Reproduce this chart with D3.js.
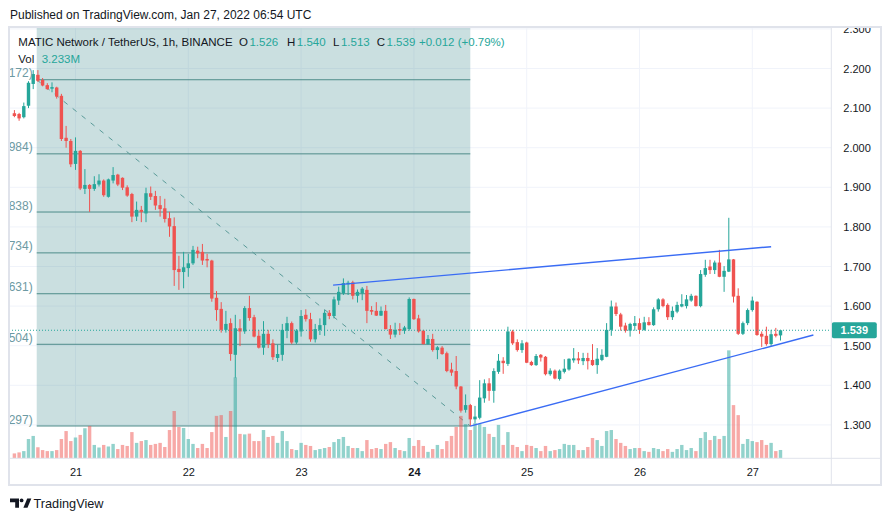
<!DOCTYPE html>
<html><head><meta charset="utf-8">
<script src="https://cdn.jsdelivr.net/npm/d3@7"></script>
<style>
body{margin:0;background:#fff}
svg{display:block}
text{font-family:"Liberation Sans",Arial,sans-serif}
</style>
</head><body>
<svg id="c" width="891" height="521"></svg>
<script>
// ---------- DATA ----------
// hourly candles, first bar opens Jan 20 2022 11:00 UTC
const firstBarTime = Date.UTC(2022, 0, 20, 11);
const opens = [2.087,2.085,2.077,2.106,2.161,2.184,2.171,2.158,2.149,2.152,2.131,2.025,2.017,
1.959,1.992,1.896,1.906,1.896,1.907,1.917,1.876,1.917,1.932,1.924,1.900,1.883,1.826,1.843,1.834,1.885,1.878,1.855,1.847,1.822,1.802,1.694,1.686,
1.696,1.708,1.740,1.737,1.719,1.715,1.621,1.593,1.540,1.557,1.477,1.544,1.536,1.595,1.572,1.525,1.495,1.530,1.506,1.469,1.477,1.538,1.557,1.508,
1.536,1.578,1.567,1.516,1.540,1.552,1.583,1.575,1.614,1.632,1.655,1.660,1.626,1.632,1.641,1.590,1.588,1.576,1.588,1.542,1.528,1.542,1.538,1.542,
1.618,1.569,1.538,1.504,1.517,1.489,1.495,1.481,1.440,1.436,1.397,1.338,1.350,1.314,1.318,1.367,1.405,1.386,1.434,1.462,1.454,1.536,1.509,1.489,
1.508,1.459,1.451,1.477,1.472,1.428,1.437,1.416,1.434,1.440,1.463,1.468,1.461,1.469,1.464,1.451,1.464,1.472,1.540,1.599,1.579,1.551,1.538,1.550,
1.557,1.540,1.560,1.552,1.592,1.617,1.603,1.572,1.586,1.599,1.600,1.614,1.626,1.600,1.679,1.700,1.691,1.710,1.674,1.687,1.718,1.626,1.530,1.557,
1.590,1.611,1.530,1.525,1.504,1.530,1.526];
const highs = [2.095,2.088,2.114,2.168,2.196,2.196,2.176,2.163,2.165,2.154,2.136,2.055,2.022,
2.026,1.994,1.946,1.908,1.928,1.933,1.920,1.922,1.951,1.934,1.925,1.905,1.886,1.864,1.853,1.899,1.902,1.891,1.878,1.871,1.838,1.824,1.727,1.737,
1.732,1.752,1.750,1.757,1.732,1.717,1.638,1.610,1.588,1.569,1.578,1.567,1.600,1.626,1.578,1.540,1.562,1.540,1.516,1.503,1.555,1.573,1.561,1.542,
1.590,1.592,1.583,1.555,1.569,1.590,1.590,1.624,1.649,1.670,1.664,1.664,1.642,1.648,1.651,1.600,1.610,1.599,1.603,1.552,1.558,1.557,1.550,1.622,
1.619,1.578,1.540,1.527,1.530,1.499,1.499,1.485,1.457,1.474,1.398,1.377,1.353,1.348,1.413,1.415,1.418,1.443,1.479,1.471,1.548,1.540,1.516,1.514,
1.510,1.462,1.479,1.479,1.474,1.443,1.440,1.440,1.466,1.468,1.494,1.484,1.482,1.482,1.504,1.494,1.491,1.557,1.614,1.609,1.583,1.558,1.558,1.575,
1.569,1.573,1.572,1.597,1.620,1.620,1.607,1.599,1.611,1.630,1.628,1.631,1.627,1.691,1.717,1.717,1.715,1.742,1.701,1.823,1.719,1.645,1.561,1.594,
1.624,1.612,1.536,1.548,1.540,1.545,1.540];
const lows = [2.077,2.068,2.074,2.100,2.148,2.166,2.155,2.146,2.140,2.124,2.017,2.000,1.951,
1.944,1.893,1.883,1.838,1.891,1.902,1.876,1.874,1.910,1.903,1.893,1.876,1.812,1.815,1.812,1.812,1.868,1.843,1.826,1.811,1.775,1.651,1.641,1.645,
1.674,1.704,1.721,1.704,1.698,1.611,1.563,1.533,1.533,1.462,1.419,1.499,1.530,1.563,1.521,1.493,1.477,1.494,1.464,1.459,1.462,1.519,1.504,1.504,
1.523,1.561,1.510,1.508,1.527,1.525,1.567,1.569,1.603,1.628,1.628,1.617,1.609,1.615,1.557,1.578,1.575,1.575,1.541,1.517,1.521,1.527,1.530,1.538,
1.565,1.533,1.503,1.502,1.485,1.466,1.477,1.433,1.424,1.390,1.331,1.331,1.297,1.305,1.314,1.356,1.361,1.356,1.429,1.429,1.449,1.502,1.485,1.482,
1.456,1.449,1.449,1.460,1.425,1.424,1.415,1.412,1.430,1.437,1.457,1.454,1.451,1.440,1.449,1.429,1.461,1.471,1.525,1.575,1.538,1.533,1.523,1.538,
1.530,1.538,1.551,1.550,1.586,1.597,1.565,1.565,1.582,1.597,1.594,1.611,1.599,1.597,1.674,1.681,1.681,1.673,1.636,1.686,1.609,1.527,1.527,1.552,
1.586,1.525,1.497,1.500,1.499,1.521,1.513];
const closes = [2.080,2.074,2.105,2.164,2.186,2.169,2.157,2.148,2.153,2.129,2.022,2.017,1.958,
1.992,1.897,1.906,1.896,1.908,1.917,1.880,1.920,1.931,1.907,1.899,1.879,1.826,1.843,1.838,1.885,1.876,1.854,1.845,1.820,1.801,1.691,1.686,1.698,
1.708,1.742,1.733,1.715,1.715,1.619,1.590,1.540,1.555,1.479,1.544,1.536,1.595,1.570,1.523,1.495,1.530,1.504,1.471,1.479,1.540,1.557,1.508,1.538,
1.575,1.567,1.516,1.542,1.552,1.583,1.575,1.617,1.636,1.658,1.659,1.626,1.636,1.644,1.588,1.586,1.576,1.588,1.542,1.528,1.540,1.538,1.546,1.618,
1.567,1.536,1.504,1.517,1.489,1.496,1.479,1.436,1.432,1.397,1.336,1.350,1.314,1.321,1.369,1.405,1.386,1.436,1.462,1.456,1.536,1.506,1.489,1.506,
1.457,1.451,1.474,1.470,1.428,1.437,1.417,1.437,1.442,1.467,1.468,1.463,1.469,1.461,1.451,1.467,1.477,1.540,1.599,1.580,1.548,1.538,1.555,1.557,
1.540,1.559,1.552,1.592,1.617,1.600,1.572,1.588,1.603,1.605,1.617,1.626,1.600,1.681,1.696,1.691,1.710,1.674,1.689,1.718,1.624,1.530,1.557,1.590,
1.614,1.527,1.523,1.504,1.529,1.525,1.539];
// volume, millions
const volumes = [1.9,2.3,2.8,7.5,8.7,4.3,3.2,2.8,2.8,3.2,7.5,10.6,6.7,
8.1,9.1,11.7,12.6,5.2,4.2,5.2,4.6,5.6,3.6,5.2,4.8,10.2,6.0,6.7,7.1,5.2,5.6,6.0,4.4,11.0,18.4,12.2,11.8,
7.5,5.6,4.0,5.6,4.0,10.2,16.5,16.8,8.3,18.4,31.5,9.5,9.3,9.6,6.7,6.7,11.0,8.3,8.7,6.0,10.6,6.7,
3.6,3.2,6.0,5.2,4.8,3.2,3.6,4.0,4.4,6.3,7.5,8.3,4.8,4.0,4.0,2.8,7.1,3.6,4.0,3.6,5.6,6.3,4.0,3.2,2.8,7.9,
4.8,7.1,4.8,2.5,3.6,5.2,3.6,6.7,8.7,12.2,16.5,13.3,11.0,13.7,13.3,12.2,9.5,8.3,13.0,5.2,10.2,5.2,4.4,2.8,
5.2,4.8,4.0,2.8,4.8,2.8,3.2,3.6,5.6,5.2,5.2,3.2,3.2,4.4,
7.9,7.1,4.8,10.6,11.0,7.5,6.0,4.8,3.6,4.0,4.0,2.8,2.5,4.0,3.6,2.8,3.6,2.5,3.6,5.2,3.2,4.0,2.8,7.9,10.2,7.1,
8.7,7.5,8.7,42.0,20.7,16.8,5.6,7.5,6.7,6.3,7.1,5.2,6.0,2.8,3.233];

const priceTicks = [1.3,1.4,1.5,1.6,1.7,1.8,1.9,2.0,2.1,2.2,2.3];
const dayTicks = [21,22,23,24,25,26,27];
const fibLevels = [1,0.786,0.618,0.5,0.382,0.236,0];
const fibHigh = 2.1716, fibLow = 1.2972;
// fib anchors: hours from Jan 21 00:00 UTC
const fibStartHour = -8.25, fibEndHour = 84;
const trendUpper = [[54.8,1.653],[148,1.750]];
const trendLower = [[84,1.297],[157,1.527]];
const lastPrice = 1.539;

// ---------- SCALES ----------
const HOUR = 3600e3;
const day0 = Date.UTC(2022,0,21);
const x = d3.scaleUtc().domain([new Date(day0), new Date(day0 + 7*24*HOUR)]).range([75.5, 75.5 + 7*112.8]);
const y = d3.scaleLinear().domain([1.5, 2.3]).range([345.7, 345.7 - 0.8*396]);
const yv = d3.scaleLinear().domain([0, 40]).range([458.3, 458.3 - 40*2.57]);
const hx = h => x(new Date(day0 + h*HOUR));

const UP = "#26a69a", DN = "#ef5350";
const bars = opens.map((o,i)=>({t:new Date(firstBarTime + i*HOUR), o, h:highs[i], l:lows[i], c:closes[i], v:volumes[i]}));

const svg = d3.select("#c");
svg.append("rect").attr("width",891).attr("height",521).attr("fill","#fff");

const L = 9, R = 831.3, T = 27, B = 458.3;
const defs = svg.append("defs");
defs.append("clipPath").attr("id","plot").append("rect").attr("x",L+1).attr("y",T+1).attr("width",R-L-1).attr("height",B-T-1);
defs.append("clipPath").attr("id","paxis").append("rect").attr("x",R).attr("y",T+1).attr("width",50).attr("height",B-T);

const plot = svg.append("g").attr("clip-path","url(#plot)");

// grid
plot.selectAll(".hg").data(priceTicks).join("line")
  .attr("x1",L).attr("x2",R).attr("y1",d=>y(d)).attr("y2",d=>y(d))
  .attr("stroke","#f0f3fa").attr("stroke-width",1);
plot.selectAll(".vg").data(dayTicks).join("line")
  .attr("x1",d=>x(new Date(Date.UTC(2022,0,d)))).attr("x2",d=>x(new Date(Date.UTC(2022,0,d))))
  .attr("y1",T).attr("y2",B).attr("stroke","#f0f3fa").attr("stroke-width",1);

// fib retracement
const fx1 = hx(fibStartHour), fx2 = hx(fibEndHour);
const fibPrice = lv => fibLow + lv*(fibHigh - fibLow);
plot.append("rect").attr("x",fx1).attr("y",T).attr("width",fx2-fx1).attr("height",y(fibLow)-T)
  .attr("fill","rgba(78,148,152,0.3)");
plot.selectAll(".fl").data(fibLevels).join("line")
  .attr("x1",fx1).attr("x2",fx2).attr("y1",d=>y(fibPrice(d))).attr("y2",d=>y(fibPrice(d)))
  .attr("stroke","#4e8c8a").attr("stroke-width",1);
// the label sits mostly outside the pane; only its visible tail is shown, as in the original
svg.selectAll(".ft").data(fibLevels).join("text")
  .attr("x",fx1-4).attr("y",d=>y(fibPrice(d))-2.5).attr("text-anchor","end")
  .attr("font-size",12).attr("fill","#6d9aa3")
  .text(d=>fibPrice(d).toFixed(3).slice(-3) + ")");
plot.append("line").attr("x1",fx1).attr("y1",y(fibHigh)).attr("x2",fx2).attr("y2",y(fibLow))
  .attr("stroke","#5a9a98").attr("stroke-width",1).attr("stroke-dasharray","5 6.5");

// volume
const bw = 3.4;
plot.selectAll(".vol").data(bars).join("rect")
  .attr("x",d=>x(d.t)-bw/2).attr("width",bw)
  .attr("y",d=>yv(d.v)).attr("height",d=>yv(0)-yv(d.v))
  .attr("fill",d=>d.c>=d.o?"rgba(38,166,154,0.5)":"rgba(239,83,80,0.5)");

// candles
const cg = plot.append("g");
cg.selectAll(".wk").data(bars).join("rect")
  .attr("x",d=>x(d.t)-0.5).attr("width",1)
  .attr("y",d=>y(d.h)).attr("height",d=>Math.max(1,y(d.l)-y(d.h)))
  .attr("fill",d=>d.c>=d.o?UP:DN);
cg.selectAll(".bd").data(bars).join("rect")
  .attr("x",d=>x(d.t)-bw/2).attr("width",bw)
  .attr("y",d=>y(Math.max(d.o,d.c))).attr("height",d=>Math.max(1,Math.abs(y(d.o)-y(d.c))))
  .attr("fill",d=>d.c>=d.o?UP:DN);

// trend lines
[trendUpper, trendLower].forEach(tl=>{
  plot.append("line").attr("x1",hx(tl[0][0])).attr("y1",y(tl[0][1]))
    .attr("x2",hx(tl[1][0])).attr("y2",y(tl[1][1]))
    .attr("stroke","#3a6cf4").attr("stroke-width",1.4);
});

// last price line
plot.append("line").attr("x1",L).attr("x2",R).attr("y1",y(lastPrice)).attr("y2",y(lastPrice))
  .attr("stroke",UP).attr("stroke-width",1).attr("stroke-dasharray","1 2");

// ---------- AXES ----------
const pa = svg.append("g").attr("clip-path","url(#paxis)").append("g").attr("transform",`translate(${R},0)`)
  .call(d3.axisRight(y).tickValues(priceTicks).tickFormat(d3.format(".3f")).tickSize(0).tickPadding(12));
pa.select(".domain").remove();
pa.selectAll("text").attr("font-size",11).attr("fill","#131722").attr("font-family","Liberation Sans, Arial, sans-serif");

const ta = svg.append("g").attr("transform",`translate(0,${B})`)
  .call(d3.axisBottom(x).tickValues(dayTicks.map(d=>new Date(Date.UTC(2022,0,d)))).tickFormat(d3.utcFormat("%-d")).tickSize(0).tickPadding(9.5));
ta.select(".domain").remove();
ta.selectAll("text").attr("font-size",11).attr("fill","#131722").attr("font-family","Liberation Sans, Arial, sans-serif")
  .attr("font-weight",d=>d.getUTCDate()===24?"bold":"normal");

// last price label
const lpY = y(lastPrice);
svg.append("rect").attr("x",R+0.5).attr("y",lpY-8).attr("width",45).attr("height",16).attr("rx",2).attr("fill",UP);
svg.append("text").attr("x",R+23).attr("y",lpY).attr("dy","0.35em").attr("text-anchor","middle")
  .attr("font-size",11).attr("font-weight","bold").attr("fill","#fff").text(lastPrice.toFixed(3));

// frame & separators
svg.append("line").attr("x1",R).attr("x2",R).attr("y1",T).attr("y2",486).attr("stroke","#e0e3eb").attr("stroke-width",1);
svg.append("line").attr("x1",L).attr("x2",881).attr("y1",B).attr("y2",B).attr("stroke","#e0e3eb").attr("stroke-width",1);
svg.append("rect").attr("x",L).attr("y",T).attr("width",881-L).attr("height",485-T)
  .attr("fill","none").attr("stroke","#e0e3eb").attr("stroke-width",2);

// ---------- TEXT ----------
svg.append("text").attr("x",10).attr("y",15).attr("dy","0.35em").attr("font-size",12).attr("fill","#131722")
  .text("Published on TradingView.com, Jan 27, 2022 06:54 UTC");

const hdrY = 41.7, fs = 11.5;
svg.append("text").attr("x",18.3).attr("y",hdrY).attr("dy","0.35em").attr("font-size",fs).attr("fill","#131722")
  .text("MATIC Network / TetherUS, 1h, BINANCE");
const ohlc = [["O","1.526",239],["H","1.540",287],["L","1.513",333],["C","1.539",376.7]];
ohlc.forEach(([k,v,px])=>{
  const t = svg.append("text").attr("x",px).attr("y",hdrY).attr("dy","0.35em").attr("font-size",fs);
  t.append("tspan").attr("fill","#131722").text(k);
  t.append("tspan").attr("fill",UP).attr("dx",1.5).text(v);
});
svg.append("text").attr("x",419).attr("y",hdrY).attr("dy","0.35em").attr("font-size",fs).attr("fill",UP).text("+0.012 (+0.79%)");
svg.append("text").attr("x",18.3).attr("y",59.3).attr("dy","0.35em").attr("font-size",fs).attr("fill","#131722").text("Vol");
svg.append("text").attr("x",41.7).attr("y",59.3).attr("dy","0.35em").attr("font-size",fs).attr("fill",UP).text("3.233M");

// logo
const lg = svg.append("g").attr("fill","#131722");
lg.append("path").attr("d","M10,498.5 H19 V507.8 H15.2 V502.2 H10 Z");
lg.append("circle").attr("cx",21.6).attr("cy",500.4).attr("r",1.9);
lg.append("path").attr("d","M23.4,507.8 L27.2,498.5 H31.3 L27.5,507.8 Z");
svg.append("text").attr("x",33.5).attr("y",503.3).attr("dy","0.35em").attr("font-size",13).attr("fill","#131722")
  .attr("textLength",70).attr("lengthAdjust","spacingAndGlyphs").text("TradingView");
</script>
</body></html>
